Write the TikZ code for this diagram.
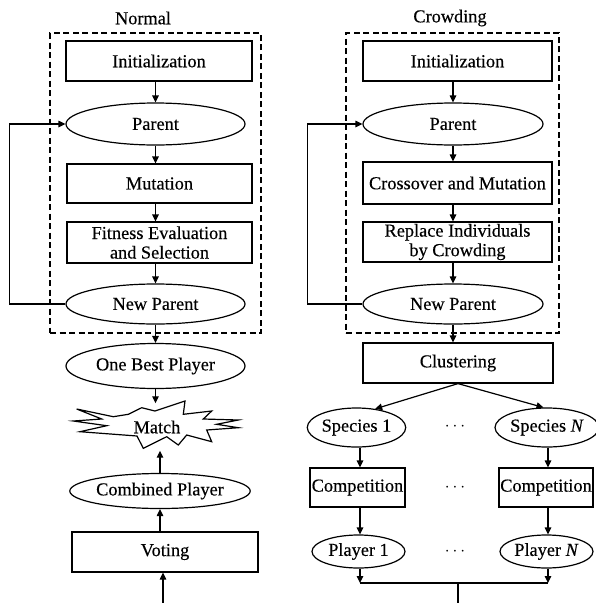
\documentclass[tikz,border=0pt]{standalone}
\usepackage{fontspec}
\setmainfont{Liberation Serif}[FakeBold=0.35]
\usetikzlibrary{arrows.meta,shapes.geometric}
\begin{document}
\begin{tikzpicture}[x=1pt,y=-1pt,
  every node/.style={font=\fontsize{18.3}{20.5}\selectfont, inner sep=1pt},
  box/.style={draw, line width=1.2pt, rectangle, align=center},
  oval/.style={draw, line width=1.2pt, ellipse, inner sep=0pt},
  frame/.style={draw, line width=1.4pt, dash pattern=on 6pt off 3.5pt, rectangle, inner sep=0pt},
  conn/.style={line width=1.2pt},
  arr/.style={conn, -{Triangle[length=7pt,width=6.5pt]}}
]
\useasboundingbox (0,0) rectangle (595,603);

% ---------- left column ----------
\node (lblN) at (143,18) {Normal};
\node[frame, minimum width=211pt, minimum height=300pt] (frameL) at (155.5,183) {};
\node[box, minimum width=186pt, minimum height=40pt] (init) at (159,61) {Initialization};
\node[oval, minimum width=179pt, minimum height=42pt] (parent) at (155.5,124) {Parent};
\node[box, minimum width=185pt, minimum height=39pt] (mut) at (159.5,183.5) {Mutation};
\node[box, minimum width=185pt, minimum height=41pt] (fit) at (159.5,242.5) {Fitness Evaluation\\[-1pt]and Selection};
\node[oval, minimum width=179pt, minimum height=40pt] (newp) at (155.5,304) {New Parent};
\node[oval, minimum width=179pt, minimum height=45pt] (best) at (155.5,366) {One Best Player};
\node[minimum width=160pt, minimum height=47pt] (match) at (157,427) {Match};
\node[oval, minimum width=180pt, minimum height=35pt] (comb) at (160,491) {Combined Player};
\node[box, minimum width=186pt, minimum height=40pt] (vote) at (165,552) {Voting};
\coordinate (vin) at (163,603);

\draw[conn, line join=miter, shift={(match.center)}]
  (-80.3,-18) -- (-43.7,-10.3) -- (-28.7,-12.7) -- (-15.3,-19.3) -- (-2,-16)
  -- (28,-26) -- (26.3,-12.7) -- (54.7,-16) -- (46.3,-8) -- (81.3,-7)
  -- (59.7,-2.7) -- (81.3,0.7) -- (49.7,3) -- (54.7,14.7) -- (29.7,8)
  -- (21.3,18) -- (9.7,9.7) -- (-13.7,21.3) -- (-20,9) -- (-77,4.7)
  -- (-50.3,-1.3) -- (-83.7,-6) -- (-55.3,-8) -- cycle;

\draw[arr] (init.south -| parent) -- (parent.north);
\draw[arr] (parent.south) -- (parent.south |- mut.north);
\draw[arr] (mut.south -| parent) -- (fit.north -| parent);
\draw[arr] (fit.south -| parent) -- (newp.north);
\draw[arr] (newp.west) -- ++(-56,0) |- (parent.west);
\draw[arr] (newp.south) -- (best.north);
\draw[arr] (best.south) -- (best.south |- match.north);
\draw[arr] (comb.north) -- (comb.north |- match.south);
\draw[arr] (vote.north -| comb) -- (comb.south);
\draw[arr] (vin) -- (vin |- vote.south);

% ---------- right column ----------
\node (lblC) at (450,18) {Crowding};
\node[frame, minimum width=213pt, minimum height=300pt] (frameR) at (452.5,183) {};
\node[box, minimum width=189pt, minimum height=40pt] (init2) at (457.5,61) {Initialization};
\node[oval, minimum width=180pt, minimum height=42pt] (parent2) at (453,124) {Parent};
\node[box, minimum width=189pt, minimum height=42pt] (cm) at (457.5,183) {Crossover and Mutation};
\node[box, minimum width=189pt, minimum height=40pt] (rep) at (457.5,242) {Replace Individuals\\[-1pt]by Crowding};
\node[oval, minimum width=180pt, minimum height=40pt] (newp2) at (453,304) {New Parent};
\node[box, minimum width=190pt, minimum height=40pt] (clus) at (458,363) {Clustering};

\node[oval, minimum width=93pt, minimum height=39pt] (sp1) at (356.5,427.5) {Species 1};
\node[oval, minimum width=93pt, minimum height=39pt] (spN) at (547,427.5) {Species \textit{N}};
\node[box, minimum width=95pt, minimum height=39pt] (comp1) at (357.5,487.5) {Competition};
\node[box, minimum width=94pt, minimum height=39pt] (compN) at (546,487.5) {Competition};
\node[oval, minimum width=93pt, minimum height=33pt] (pl1) at (358.5,551.5) {Player 1};
\node[oval, minimum width=93pt, minimum height=33pt] (plN) at (546.5,551.5) {Player \textit{N}};
\node (d1) at (455,427) {$\cdots$};
\node (d2) at (455,488) {$\cdots$};
\node (d3) at (455,552) {$\cdots$};

\coordinate (j1) at (360,583);
\coordinate (jN) at (548,583);
\coordinate (jm) at (458,583);
\coordinate (bot) at (458,603);

\draw[arr] (init2.south -| parent2) -- (parent2.north);
\draw[arr] (parent2.south) -- (parent2.south |- cm.north);
\draw[arr] (cm.south -| parent2) -- (rep.north -| parent2);
\draw[arr] (rep.south -| parent2) -- (newp2.north);
\draw[arr] (newp2.west) -- ++(-55,0) |- (parent2.west);
\draw[arr] (newp2.south) -- (newp2.south |- clus.north);
\draw[arr] (clus.south) -- (sp1.45);
\draw[arr] (clus.south) -- (spN.100);
\draw[arr] (sp1.south -| j1) -- (comp1.north -| j1);
\draw[arr] (comp1.south -| j1) -- (pl1.north -| j1);
\draw[arr] (spN.south -| jN) -- (compN.north -| jN);
\draw[arr] (compN.south -| jN) -- (plN.north -| jN);
\draw[arr] (pl1.south -| j1) -- (j1);
\draw[arr] (plN.south -| jN) -- (jN);
\draw[conn] (j1) -- (jN);
\draw[conn] (jm) -- (bot);
\end{tikzpicture}
\end{document}
